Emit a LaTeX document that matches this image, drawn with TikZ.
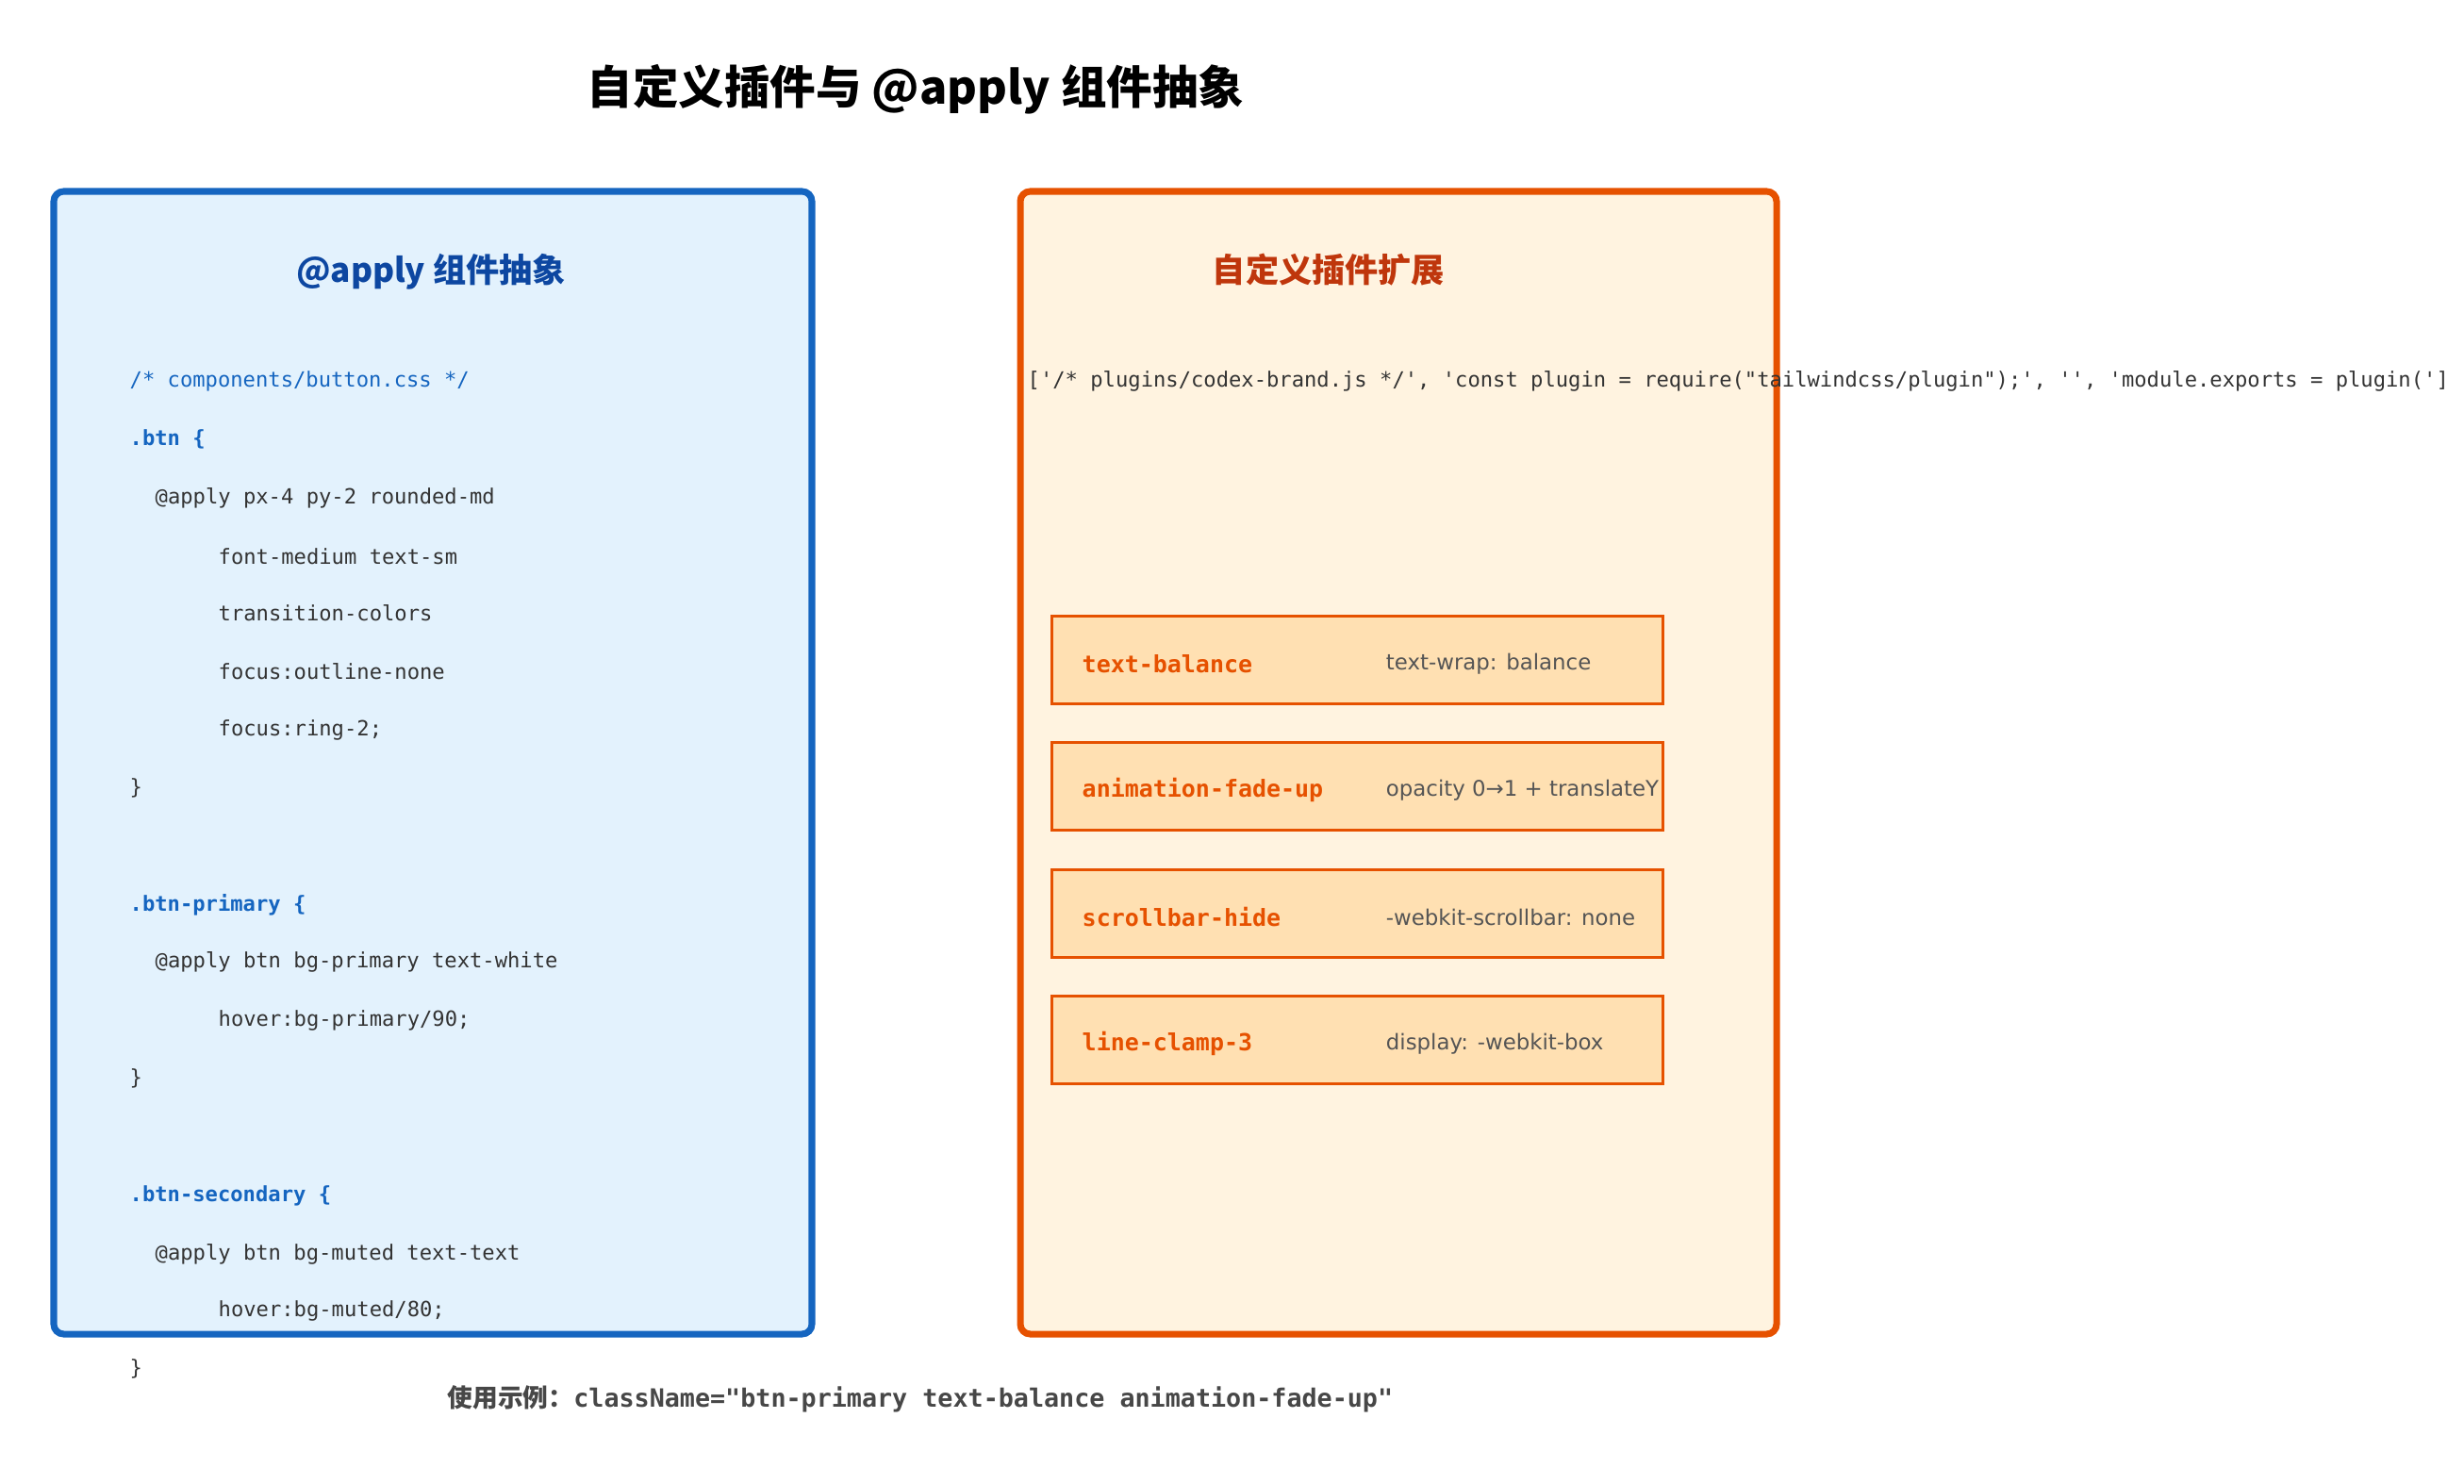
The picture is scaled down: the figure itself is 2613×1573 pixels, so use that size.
\documentclass[tikz,border=0pt]{standalone}
\usepackage{fontspec}
\setmainfont{DejaVu Sans}
\setmonofont{DejaVu Sans Mono}
\newfontfamily\cjk{Noto Sans CJK SC}
\usetikzlibrary{positioning}
\definecolor{applyfill}{HTML}{E3F2FD}
\definecolor{applyline}{HTML}{1565C0}
\definecolor{applyhead}{HTML}{0D47A1}
\definecolor{plugfill}{HTML}{FFF3E0}
\definecolor{plugline}{HTML}{E65100}
\definecolor{plughead}{HTML}{BF360C}
\definecolor{featfill}{HTML}{FFE0B2}
\definecolor{codegray}{HTML}{333333}
\definecolor{descgray}{HTML}{555555}
\tikzset{
  panel/.style={draw,line width=2pt,rounded corners=3pt},
  code/.style={anchor=west,inner sep=0pt,font=\ttfamily\fontsize{6.3}{7}\selectfont,text=codegray},
  sel/.style={code,text=applyline,font=\ttfamily\bfseries\fontsize{6.3}{7}\selectfont},
  cmt/.style={code,text=applyline},
  feat/.style={draw=plugline,fill=featfill,line width=0.8pt,minimum width=6.48cm,minimum height=0.93cm,anchor=north west,inner sep=0pt},
  fname/.style={anchor=west,inner sep=0pt,text=plugline,font=\ttfamily\bfseries\fontsize{7.1}{8}\selectfont},
  fdesc/.style={anchor=west,inner sep=0pt,text=descgray,font=\fontsize{6.5}{8}\selectfont},
  head/.style={font=\cjk\bfseries\fontsize{10}{12}\selectfont}
}
\begin{document}
\begin{tikzpicture}[x=0.01cm,y=-0.01cm]
    \useasboundingbox (0,0) rectangle (2613,1573);
    % Title
    \node[font=\cjk\bfseries\fontsize{13.8}{16}\selectfont] (title) at (971,95) {自定义插件与 @apply 组件抽象};
    % Panels
    \draw[panel,draw=applyline,fill=applyfill] (57,203) rectangle (861,1415);
    \draw[panel,draw=plugline,fill=plugfill] (1082,203) rectangle (1884,1415);
    \node[head,text=applyhead] (applyhead) at (457,288) {@apply 组件抽象};
    \node[head,text=plughead] (plughead) at (1409,286) {自定义插件扩展};
    % Left code
    \foreach \x/\y/\s/\t in {137/404/cmt/{/* components/button.css */},
        137/466/sel/{.btn \{},
        164/528/code/{@apply px-4 py-2 rounded-md},
        231/590/code/{font-medium text-sm},
        231/650/code/{transition-colors},
        231/712/code/{focus:outline-none},
        231/774/code/{focus:ring-2;},
        137/836/code/{\}},
        137/960/sel/{.btn-primary \{},
        164/1020/code/{@apply btn bg-primary text-white},
        231/1082/code/{hover:bg-primary/90;},
        137/1144/code/{\}},
        137/1268/sel/{.btn-secondary \{},
        164/1330/code/{@apply btn bg-muted text-text},
        231/1390/code/{hover:bg-muted/80;},
        137/1452/code/{\}}}
      \node[\s] at (\x,\y) {\t};
    % Plugin source
    \node[code] (plugsrc) at (1089,404) {['/* plugins/codex-brand.js */', 'const plugin = require("tailwindcss/plugin");', '', 'module.exports = plugin(']};
    % Utilities
    \foreach \n/\y/\a/\b in {1/652/text-balance/{text-wrap: balance},
        2/786/animation-fade-up/{opacity 0→1 + translateY},
        3/921/scrollbar-hide/{-webkit-scrollbar: none},
        4/1055/line-clamp-3/{display: -webkit-box}} {
      \node[feat] (feat\n) at (1114,\y) {};
      \node[fname] (fname\n) at ([xshift=0.33cm,yshift=-0.04cm]feat\n.west) {\a};
      \node[fdesc] (fdesc\n) at ([xshift=3.55cm,yshift=-0.04cm]feat\n.west) {\b};
    }
    % Usage
    \node[anchor=west,inner sep=0pt,text=codegray!90,font=\ttfamily\bfseries\fontsize{7.6}{9}\selectfont] (usage) at (474,1484) {{\cjk 使用示例：}className="btn-primary text-balance animation-fade-up"};
\end{tikzpicture}
\end{document}
